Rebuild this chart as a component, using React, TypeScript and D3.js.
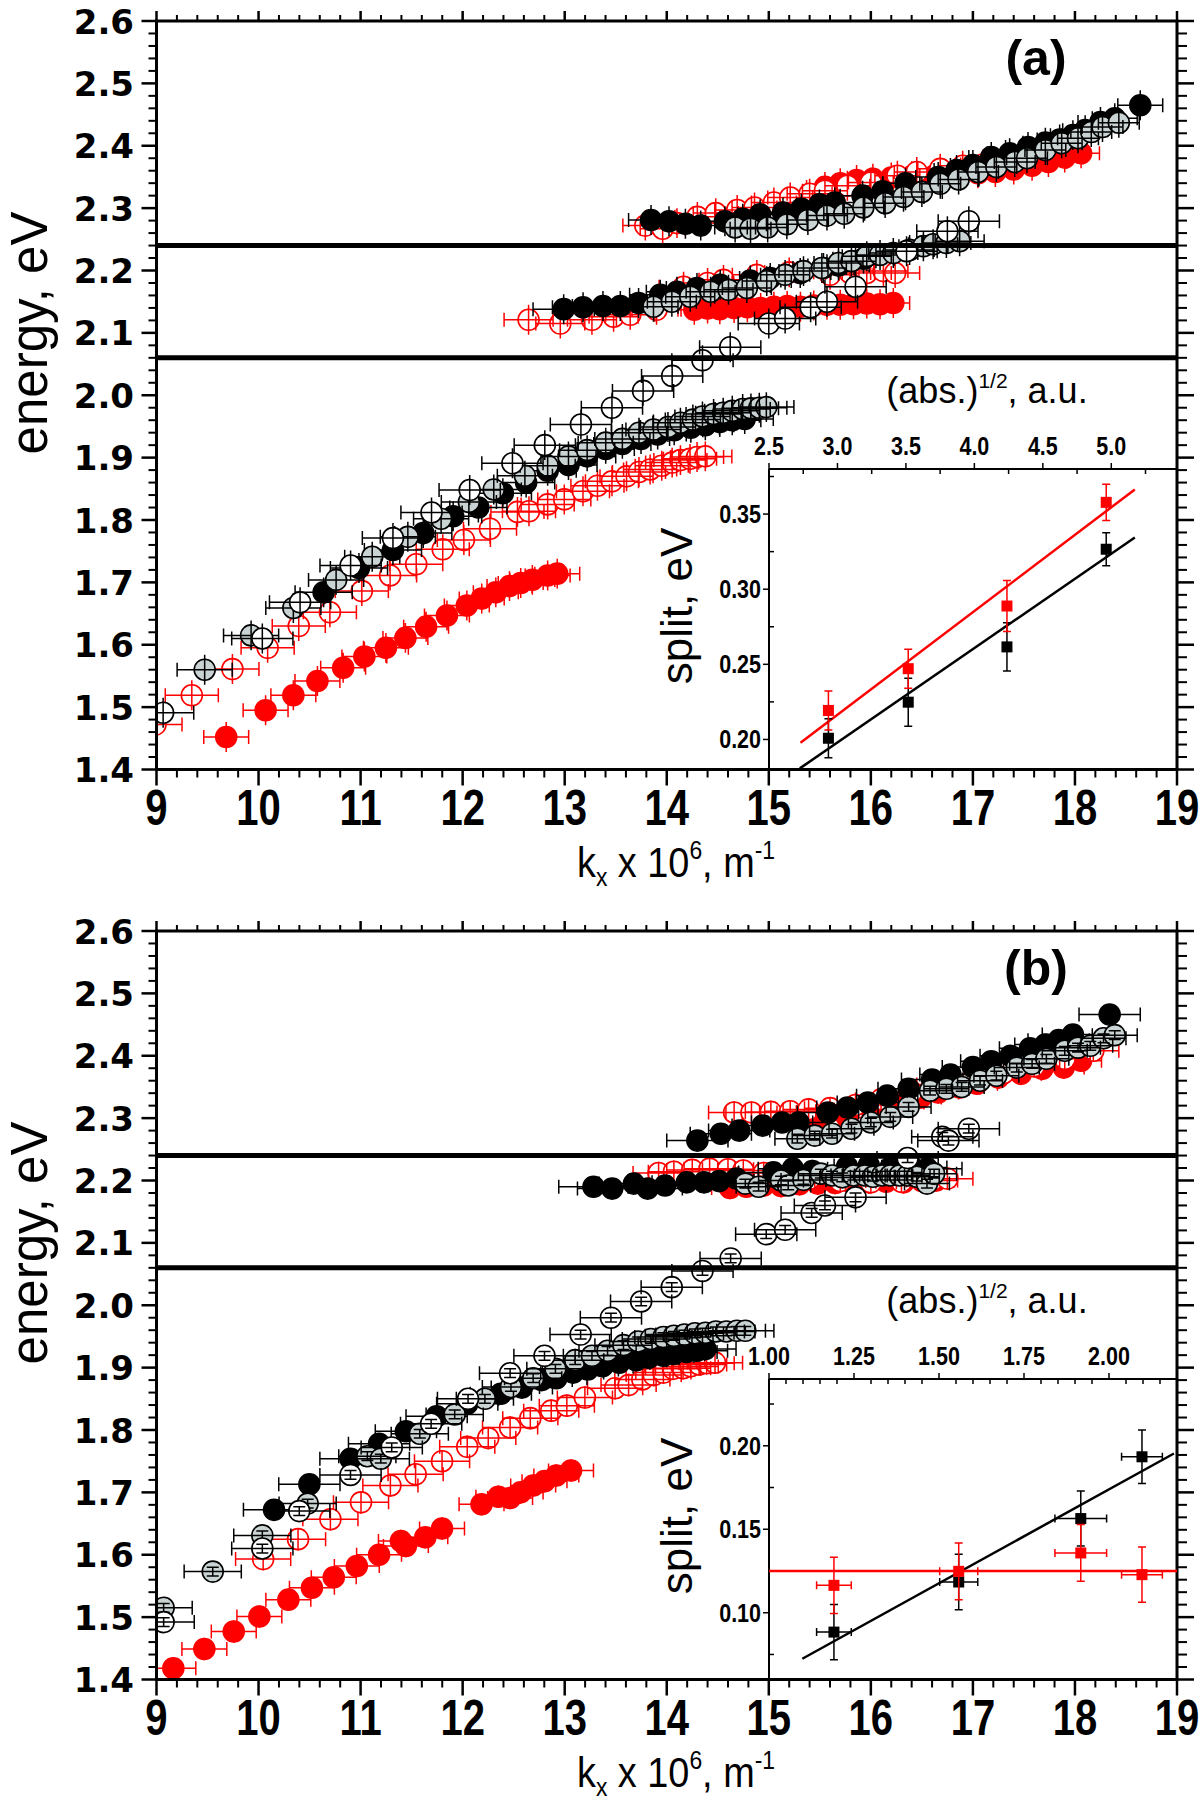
import React from 'react';
import * as d3 from 'd3';

type P = [number, number];

// ---------------- Panel (a) data: [k_x (10^6 m^-1), energy (eV)] ----------------
const A_RED_FILLED_LOW: P[] = [[9.683,1.452],[10.069,1.495],[10.341,1.519],[10.577,1.542],[10.829,1.563],[11.037,1.581],[11.248,1.595],[11.439,1.611],[11.642,1.629],[11.846,1.647],[12.041,1.663],[12.187,1.674],[12.325,1.684],[12.459,1.694],[12.569,1.699],[12.683,1.704],[12.833,1.711],[12.927,1.714]];
const A_RED_FILLED_MID: P[] = [[14.27,2.137],[14.40,2.139],[14.52,2.138],[14.66,2.140],[14.79,2.141],[14.92,2.140],[15.05,2.142],[15.18,2.143],[15.31,2.142],[15.44,2.144],[15.57,2.145],[15.70,2.145],[15.83,2.146],[15.96,2.147],[16.09,2.146],[16.22,2.148]];
const A_RED_FILLED_UP: P[] = [[15.55,2.334],[15.70,2.340],[15.86,2.345],[16.02,2.347],[16.20,2.349],[16.40,2.351],[16.62,2.352],[16.85,2.354],[17.05,2.356],[17.22,2.358],[17.40,2.362],[17.58,2.368],[17.74,2.374],[17.90,2.381],[18.06,2.388]];
const A_RED_OPEN_LOW: P[] = [[8.99,1.472],[9.346,1.519],[9.744,1.561],[10.089,1.595],[10.394,1.630],[10.699,1.652],[11.012,1.686],[11.289,1.711],[11.545,1.729],[11.805,1.753],[12.012,1.768],[12.268,1.786],[12.537,1.813],[12.650,1.814],[12.833,1.825],[12.996,1.833],[13.179,1.846],[13.321,1.855],[13.463,1.862],[13.606,1.870],[13.728,1.877],[13.837,1.881],[13.951,1.887],[14.053,1.892],[14.134,1.896],[14.228,1.898],[14.297,1.901],[14.378,1.902]];
const A_RED_OPEN_MID: P[] = [[12.646,2.121],[12.957,2.115],[13.267,2.121],[13.479,2.126],[13.642,2.129],[13.90,2.137],[14.165,2.174],[14.40,2.180],[14.556,2.185],[14.883,2.193],[15.20,2.197],[15.60,2.193],[15.797,2.196],[15.96,2.196],[16.123,2.199],[16.238,2.196]];
const A_RED_OPEN_UP: P[] = [[13.79,2.272],[13.96,2.267],[14.10,2.276],[14.30,2.286],[14.48,2.292],[14.69,2.297],[14.86,2.301],[15.05,2.309],[15.21,2.317],[15.40,2.323],[15.55,2.328],[15.77,2.336],[16.00,2.341],[16.26,2.352],[16.45,2.358],[16.68,2.363],[16.90,2.368],[17.10,2.370]];
const A_BLACK_FILLED_LOW: P[] = [[10.638,1.684],[10.984,1.723],[11.317,1.752],[11.614,1.779],[11.907,1.806],[12.154,1.820],[12.394,1.843],[12.622,1.860],[12.833,1.879],[13.037,1.888],[13.220,1.902],[13.402,1.914],[13.565,1.922],[13.748,1.930],[13.911,1.937],[14.073,1.944],[14.236,1.948],[14.378,1.952],[14.520,1.957],[14.642,1.960],[14.764,1.962]];
const A_BLACK_FILLED_MID: P[] = [[12.99,2.138],[13.18,2.141],[13.375,2.143],[13.545,2.143],[13.724,2.148],[13.936,2.161],[14.10,2.166],[14.296,2.172],[14.524,2.177],[14.818,2.184],[15.014,2.188],[15.308,2.196],[15.536,2.204],[15.683,2.208],[15.928,2.219]];
const A_BLACK_FILLED_UP: P[] = [[13.846,2.281],[14.022,2.279],[14.183,2.275],[14.333,2.272],[14.570,2.279],[14.745,2.283],[14.915,2.290],[15.139,2.293],[15.319,2.299],[15.496,2.306],[15.646,2.309],[15.919,2.320],[16.114,2.327],[16.34,2.340],[16.66,2.350],[16.84,2.361],[17.00,2.369],[17.18,2.382],[17.36,2.388],[17.54,2.398],[17.71,2.405],[17.85,2.410],[17.98,2.417],[18.10,2.425],[18.25,2.438],[18.39,2.444],[18.64,2.465]];
const A_GRAY_LOW: P[] = [[9.472,1.560],[9.927,1.615],[10.341,1.659],[10.760,1.704],[11.114,1.741],[11.463,1.773],[11.789,1.802],[12.061,1.829],[12.305,1.849],[12.610,1.871],[12.833,1.887],[13.037,1.902],[13.220,1.912],[13.402,1.924],[13.565,1.930],[13.728,1.940],[13.870,1.945],[14.012,1.949],[14.134,1.956],[14.256,1.961],[14.350,1.966],[14.459,1.970],[14.553,1.972],[14.642,1.975],[14.744,1.978],[14.825,1.979],[14.907,1.980],[14.976,1.981]];
const A_GRAY_MID: P[] = [[13.87,2.142],[14.05,2.150],[14.23,2.158],[14.43,2.166],[14.605,2.169],[14.785,2.172],[14.98,2.183],[15.16,2.193],[15.34,2.199],[15.52,2.204],[15.683,2.212],[15.81,2.215],[15.96,2.223],[16.09,2.225],[16.22,2.228],[16.38,2.233],[16.515,2.239],[16.61,2.242],[16.74,2.244],[16.87,2.247]];
const A_GRAY_UP: P[] = [[14.67,2.269],[14.821,2.267],[14.989,2.269],[15.177,2.274],[15.383,2.281],[15.570,2.288],[15.739,2.291],[15.926,2.301],[16.14,2.308],[16.32,2.318],[16.50,2.326],[16.68,2.339],[16.86,2.346],[17.05,2.358],[17.23,2.366],[17.41,2.374],[17.53,2.380],[17.71,2.393],[17.87,2.404],[18.03,2.412],[18.16,2.422],[18.27,2.430],[18.43,2.437]];
const A_BLACK_OPEN: P[] = [[9.065,1.491],[10.037,1.610],[10.407,1.668],[10.902,1.727],[11.317,1.771],[11.695,1.812],[12.069,1.848],[12.488,1.891],[12.805,1.920],[13.159,1.953],[13.463,1.980],[13.768,2.007],[14.053,2.031],[14.350,2.056],[14.622,2.077],[15.0,2.115],[15.16,2.123],[15.41,2.141],[15.57,2.150],[15.85,2.174],[16.35,2.231],[16.75,2.263],[16.96,2.279]];

// ---------------- Panel (b) data ----------------
const B_RED_FILLED_LOW: P[] = [[9.165,1.418],[9.469,1.449],[9.757,1.477],[10.008,1.501],[10.292,1.528],[10.523,1.547],[10.737,1.564],[10.963,1.582],[11.181,1.600],[11.395,1.622],[11.444,1.614],[11.634,1.628],[11.798,1.642],[12.185,1.681],[12.35,1.693],[12.465,1.691],[12.568,1.700],[12.691,1.711],[12.802,1.718],[12.918,1.727],[13.062,1.735]];
const B_RED_FILLED_MID: P[] = [[14.62,2.188],[14.78,2.190],[14.95,2.192],[15.12,2.191],[15.30,2.194],[15.48,2.195],[15.65,2.196],[15.82,2.195],[15.98,2.197],[16.15,2.198],[16.32,2.197],[16.50,2.199],[16.64,2.200]];
const B_RED_FILLED_UP: P[] = [[15.35,2.293],[15.51,2.296],[15.77,2.301],[16.02,2.307],[16.32,2.325],[16.49,2.333],[16.66,2.341],[16.87,2.349],[17.04,2.355],[17.25,2.365],[17.47,2.371],[17.68,2.379],[17.89,2.381],[18.06,2.392]];
const B_RED_OPEN_LOW: P[] = [[10.045,1.593],[10.387,1.625],[10.704,1.657],[11.004,1.684],[11.292,1.711],[11.539,1.729],[11.798,1.750],[12.045,1.773],[12.251,1.787],[12.465,1.804],[12.663,1.819],[12.868,1.831],[13.021,1.839],[13.198,1.852],[13.494,1.867],[13.626,1.872],[13.761,1.881],[13.872,1.888],[13.967,1.892],[14.062,1.898],[14.160,1.899],[14.235,1.902],[14.317,1.905],[14.391,1.907],[14.473,1.908]];
const B_RED_OPEN_MID: P[] = [[13.92,2.212],[14.07,2.214],[14.25,2.217],[14.42,2.219],[14.60,2.218],[14.75,2.216],[14.95,2.212],[15.15,2.207],[15.40,2.203],[15.70,2.199],[16.00,2.197],[16.30,2.198],[16.60,2.200],[16.75,2.203]];
const B_RED_OPEN_UP: P[] = [[14.66,2.309],[14.83,2.309],[15.02,2.310],[15.21,2.311],[15.39,2.314],[15.60,2.316],[15.85,2.321],[16.10,2.330],[16.40,2.342],[16.70,2.354],[17.00,2.362],[17.30,2.372],[17.60,2.383],[17.90,2.395],[18.18,2.408]];
const B_BLACK_FILLED_LOW: P[] = [[10.152,1.672],[10.498,1.713],[10.901,1.754],[11.181,1.778],[11.444,1.798],[11.745,1.822],[12.045,1.842],[12.374,1.858],[12.580,1.868],[12.774,1.880],[12.918,1.883],[13.082,1.892],[13.226,1.897],[13.370,1.902],[13.535,1.908],[13.700,1.912],[13.823,1.916],[13.967,1.919],[14.070,1.922],[14.193,1.925],[14.296,1.927],[14.379,1.930]];
const B_BLACK_FILLED_MID: P[] = [[13.282,2.190],[13.465,2.187],[13.678,2.195],[13.813,2.187],[13.983,2.192],[14.196,2.197],[14.366,2.197],[14.514,2.199],[14.684,2.203],[15.045,2.213],[15.236,2.219],[15.427,2.215],[15.767,2.222],[15.980,2.224],[16.192,2.221],[16.405,2.221],[16.553,2.219]];
const B_BLACK_FILLED_UP: P[] = [[14.30,2.264],[14.53,2.275],[14.71,2.280],[14.94,2.288],[15.13,2.293],[15.29,2.293],[15.58,2.309],[15.77,2.317],[15.97,2.325],[16.16,2.336],[16.37,2.347],[16.60,2.362],[16.78,2.370],[17.00,2.382],[17.18,2.391],[17.37,2.400],[17.56,2.412],[17.71,2.418],[17.84,2.425],[17.98,2.434],[18.34,2.466]];
const B_GRAY_LOW: P[] = [[9.070,1.515],[9.551,1.573],[10.037,1.631],[10.481,1.682],[11.066,1.758],[11.198,1.754],[11.580,1.794],[11.922,1.825],[12.218,1.850],[12.473,1.869],[12.691,1.883],[12.909,1.898],[13.103,1.912],[13.267,1.919],[13.420,1.927],[13.576,1.936],[13.720,1.942],[13.844,1.946],[13.967,1.949],[14.070,1.951],[14.173,1.953],[14.276,1.955],[14.379,1.956],[14.481,1.958],[14.584,1.958],[14.687,1.959],[14.770,1.959]];
const B_GRAY_MID: P[] = [[14.77,2.195],[14.90,2.190],[15.12,2.200],[15.19,2.192],[15.34,2.201],[15.51,2.211],[15.62,2.208],[15.72,2.205],[15.83,2.208],[15.94,2.208],[16.02,2.206],[16.11,2.208],[16.19,2.208],[16.28,2.208],[16.36,2.208],[16.45,2.206],[16.55,2.195],[16.62,2.211]];
const B_GRAY_UP: P[] = [[15.28,2.267],[15.45,2.272],[15.62,2.275],[15.81,2.283],[16.00,2.293],[16.19,2.302],[16.37,2.318],[16.58,2.344],[16.74,2.347],[16.89,2.350],[17.07,2.360],[17.23,2.368],[17.43,2.381],[17.58,2.387],[17.72,2.395],[17.90,2.408],[18.03,2.413],[18.15,2.416],[18.28,2.428],[18.39,2.433]];
const B_BLACK_OPEN: P[] = [[9.070,1.492],[10.037,1.610],[10.399,1.670],[10.901,1.728],[11.305,1.772],[11.691,1.810],[12.053,1.850],[12.465,1.891],[12.802,1.919],[13.156,1.953],[13.453,1.980],[13.749,2.006],[14.049,2.029],[14.350,2.055],[14.626,2.075],[14.975,2.114],[15.16,2.121],[15.42,2.148],[15.55,2.160],[15.85,2.173],[16.36,2.236],[16.70,2.270],[16.76,2.264],[16.96,2.283]];

// ---------------- Inset data ----------------
const INSET_A_X = [2.934, 3.517, 4.238, 4.963];
const INSET_A_RED = [0.2193, 0.2471, 0.2888, 0.3578];
const INSET_A_RED_ERR = [0.013, 0.013, 0.017, 0.012];
const INSET_A_BLACK = [0.2008, 0.2248, 0.2616, 0.3266];
const INSET_A_BLACK_ERR = [0.013, 0.016, 0.016, 0.011];
const INSET_A_FIT_RED = { slope: 0.069, intercept: 0.0095, from: 2.73, to: 5.172 };
const INSET_A_FIT_BLACK = { slope: 0.0628, intercept: 0.0096, from: 2.725, to: 5.172 };

const INSET_B_X = [1.191, 1.558, 1.917, 2.097];
const INSET_B_XERR = [0.051, 0.056, 0.076, 0.06];
const INSET_B_RED = [0.1164, 0.1248, 0.1358, 0.1228];
const INSET_B_RED_ERR = [0.0168, 0.017, 0.017, 0.0165];
const INSET_B_BLACK = [0.0884, 0.1184, 0.1564, 0.1934];
const INSET_B_BLACK_ERR = [0.0166, 0.0166, 0.0165, 0.016];
const INSET_B_FIT_RED = { slope: 0, intercept: 0.125, from: 1.0, to: 2.2 };
const INSET_B_FIT_BLACK = { slope: 0.1125, intercept: -0.0511, from: 1.098, to: 2.191 };

// ---------------- Tick values ----------------
const X_MAJOR = [9, 10, 11, 12, 13, 14, 15, 16, 17, 18, 19];
const Y_MAJOR = [1.4, 1.5, 1.6, 1.7, 1.8, 1.9, 2.0, 2.1, 2.2, 2.3, 2.4, 2.5, 2.6];
const GAP_LINES = [2.24, 2.06];

// ---------------- Layout / style ----------------
const W = 1200, H = 1814;
const LEFT = 156.5, RIGHT = 1177;
const PANEL_H = 748.5;
const RED = '#ff0000';
const GRAY = '#c9d3d3';
const FONT = '"Liberation Sans", Arial, sans-serif';
const R = 10.5;

type Kind = 'rf' | 'ro' | 'bf' | 'gr' | 'bo';
interface Series { data: P[]; kind: Kind; xerr: number; yerr: number; ycap: boolean; }

const KIND_STYLE: Record<Kind, { fill: string; stroke: string; err: string }> = {
  rf: { fill: RED, stroke: RED, err: RED },
  ro: { fill: '#ffffff', stroke: RED, err: RED },
  bf: { fill: '#000000', stroke: '#000000', err: '#000000' },
  gr: { fill: GRAY, stroke: '#000000', err: '#000000' },
  bo: { fill: '#ffffff', stroke: '#000000', err: '#000000' },
};

const SERIES_A: Series[] = [
  { data: A_RED_FILLED_LOW, kind: 'rf', xerr: 0.22, yerr: 0.024, ycap: false },
  { data: A_RED_FILLED_MID, kind: 'rf', xerr: 0.16, yerr: 0.024, ycap: false },
  { data: A_RED_FILLED_UP, kind: 'rf', xerr: 0.18, yerr: 0.024, ycap: false },
  { data: A_RED_OPEN_LOW, kind: 'ro', xerr: 0.26, yerr: 0.024, ycap: false },
  { data: A_RED_OPEN_MID, kind: 'ro', xerr: 0.24, yerr: 0.024, ycap: false },
  { data: A_RED_OPEN_UP, kind: 'ro', xerr: 0.22, yerr: 0.024, ycap: false },
  { data: A_BLACK_FILLED_LOW, kind: 'bf', xerr: 0.28, yerr: 0.024, ycap: false },
  { data: A_BLACK_FILLED_MID, kind: 'bf', xerr: 0.3, yerr: 0.024, ycap: false },
  { data: A_BLACK_FILLED_UP, kind: 'bf', xerr: 0.22, yerr: 0.024, ycap: false },
  { data: A_GRAY_LOW, kind: 'gr', xerr: 0.27, yerr: 0.024, ycap: false },
  { data: A_GRAY_MID, kind: 'gr', xerr: 0.24, yerr: 0.024, ycap: false },
  { data: A_GRAY_UP, kind: 'gr', xerr: 0.2, yerr: 0.024, ycap: false },
  { data: A_BLACK_OPEN, kind: 'bo', xerr: 0.3, yerr: 0.024, ycap: false },
];

const SERIES_B: Series[] = [
  { data: B_RED_FILLED_LOW, kind: 'rf', xerr: 0.22, yerr: 0.018, ycap: false },
  { data: B_RED_FILLED_MID, kind: 'rf', xerr: 0.18, yerr: 0.018, ycap: false },
  { data: B_RED_FILLED_UP, kind: 'rf', xerr: 0.2, yerr: 0.018, ycap: false },
  { data: B_RED_OPEN_LOW, kind: 'ro', xerr: 0.27, yerr: 0.018, ycap: false },
  { data: B_RED_OPEN_MID, kind: 'ro', xerr: 0.25, yerr: 0.018, ycap: false },
  { data: B_RED_OPEN_UP, kind: 'ro', xerr: 0.25, yerr: 0.018, ycap: false },
  { data: B_BLACK_FILLED_LOW, kind: 'bf', xerr: 0.3, yerr: 0.007, ycap: true },
  { data: B_BLACK_FILLED_MID, kind: 'bf', xerr: 0.34, yerr: 0.007, ycap: true },
  { data: B_BLACK_FILLED_UP, kind: 'bf', xerr: 0.3, yerr: 0.007, ycap: true },
  { data: B_GRAY_LOW, kind: 'gr', xerr: 0.28, yerr: 0.007, ycap: true },
  { data: B_GRAY_MID, kind: 'gr', xerr: 0.22, yerr: 0.007, ycap: true },
  { data: B_GRAY_UP, kind: 'gr', xerr: 0.22, yerr: 0.007, ycap: true },
  { data: B_BLACK_OPEN, kind: 'bo', xerr: 0.3, yerr: 0.007, ycap: true },
];

const xScale = d3.scaleLinear().domain([9, 19]).range([LEFT, RIGHT]);

function errPath(s: Series, y: d3.ScaleLinear<number, number>): string {
  const p = d3.path();
  s.data.forEach(([k, e]) => {
    const cx = xScale(k), cy = y(e);
    const x0 = xScale(k - s.xerr), x1 = xScale(k + s.xerr);
    p.moveTo(x0, cy); p.lineTo(x1, cy);
    p.moveTo(x0, cy - 7); p.lineTo(x0, cy + 7);
    p.moveTo(x1, cy - 7); p.lineTo(x1, cy + 7);
    const y0 = y(e + s.yerr), y1 = y(e - s.yerr);
    p.moveTo(cx, y0); p.lineTo(cx, y1);
    if (s.ycap) {
      p.moveTo(cx - 6, y0); p.lineTo(cx + 6, y0);
      p.moveTo(cx - 6, y1); p.lineTo(cx + 6, y1);
    }
  });
  return p.toString();
}

interface Fit { slope: number; intercept: number; from: number; to: number }
interface InsetCfg {
  xDomain: [number, number]; yDomain: [number, number];
  xMajor: number[]; xMinor: number[]; yMajor: number[]; yMinor: number[];
  xFmt: (v: number) => string; yFmt: (v: number) => string;
  x: number[]; xerr: number[] | null;
  red: number[]; redErr: number[]; black: number[]; blackErr: number[];
  fitRed: Fit; fitBlack: Fit;
}

const INSET_A: InsetCfg = {
  xDomain: [2.5, 5.48], yDomain: [0.18, 0.38],
  xMajor: [2.5, 3.0, 3.5, 4.0, 4.5, 5.0], xMinor: [2.75, 3.25, 3.75, 4.25, 4.75, 5.25],
  yMajor: [0.20, 0.25, 0.30, 0.35], yMinor: [0.225, 0.275, 0.325, 0.375],
  xFmt: d3.format('.1f'), yFmt: d3.format('.2f'),
  x: INSET_A_X, xerr: null,
  red: INSET_A_RED, redErr: INSET_A_RED_ERR, black: INSET_A_BLACK, blackErr: INSET_A_BLACK_ERR,
  fitRed: INSET_A_FIT_RED, fitBlack: INSET_A_FIT_BLACK,
};
const INSET_B: InsetCfg = {
  xDomain: [1.0, 2.2], yDomain: [0.06, 0.24],
  xMajor: [1.0, 1.25, 1.5, 1.75, 2.0],
  xMinor: [1.05, 1.1, 1.15, 1.2, 1.3, 1.35, 1.4, 1.45, 1.55, 1.6, 1.65, 1.7, 1.8, 1.85, 1.9, 1.95, 2.05, 2.1, 2.15],
  yMajor: [0.10, 0.15, 0.20], yMinor: [0.075, 0.125, 0.175, 0.225],
  xFmt: d3.format('.2f'), yFmt: d3.format('.2f'),
  x: INSET_B_X, xerr: INSET_B_XERR,
  red: INSET_B_RED, redErr: INSET_B_RED_ERR, black: INSET_B_BLACK, blackErr: INSET_B_BLACK_ERR,
  fitRed: INSET_B_FIT_RED, fitBlack: INSET_B_FIT_BLACK,
};

function Inset({ top, cfg }: { top: number; cfg: InsetCfg }) {
  const left = 769, iTop = top + 448, bottom = top + PANEL_H;
  const xs = d3.scaleLinear().domain(cfg.xDomain).range([left, RIGHT]);
  const ys = d3.scaleLinear().domain(cfg.yDomain).range([bottom, iTop]);
  const fitLine = (f: Fit) =>
    d3.line<number>().x(v => xs(v)).y(v => ys(f.intercept + f.slope * v))([f.from, f.to]) || '';
  const bars = (vals: number[], errs: number[]) => {
    const p = d3.path();
    vals.forEach((v, i) => {
      const cx = xs(cfg.x[i]);
      const y0 = ys(v + errs[i]), y1 = ys(v - errs[i]);
      p.moveTo(cx, y0); p.lineTo(cx, y1);
      p.moveTo(cx - 4, y0); p.lineTo(cx + 4, y0);
      p.moveTo(cx - 4, y1); p.lineTo(cx + 4, y1);
      if (cfg.xerr) {
        const cy = ys(v);
        const x0 = xs(cfg.x[i] - cfg.xerr[i]), x1 = xs(cfg.x[i] + cfg.xerr[i]);
        p.moveTo(x0, cy); p.lineTo(x1, cy);
        p.moveTo(x0, cy - 4); p.lineTo(x0, cy + 4);
        p.moveTo(x1, cy - 4); p.lineTo(x1, cy + 4);
      }
    });
    return p.toString();
  };
  const S = 11;
  return (
    <g>
      <line x1={left} y1={iTop} x2={RIGHT} y2={iTop} stroke="#000" strokeWidth={2} />
      <line x1={left} y1={iTop} x2={left} y2={bottom} stroke="#000" strokeWidth={2} />
      {cfg.xMajor.map(v => (
        <g key={'xm' + v}>
          <line x1={xs(v)} x2={xs(v)} y1={iTop} y2={iTop - 6} stroke="#000" strokeWidth={1.5} />
          <text transform={`translate(${xs(v)},${iTop - 14}) scale(0.86,1)`} textAnchor="middle"
            fontFamily={FONT} fontWeight="bold" fontSize={25}>{cfg.xFmt(v)}</text>
        </g>
      ))}
      {cfg.xMinor.map(v => (
        <line key={'xn' + v} x1={xs(v)} x2={xs(v)} y1={iTop} y2={iTop + 5} stroke="#000" strokeWidth={1.5} />
      ))}
      {cfg.yMajor.map(v => (
        <g key={'ym' + v}>
          <line x1={left} x2={left - 6} y1={ys(v)} y2={ys(v)} stroke="#000" strokeWidth={1.5} />
          <text transform={`translate(${left - 8},${ys(v) + 9}) scale(0.86,1)`} textAnchor="end"
            fontFamily={FONT} fontWeight="bold" fontSize={25}>{cfg.yFmt(v)}</text>
        </g>
      ))}
      {cfg.yMinor.map(v => (
        <line key={'yn' + v} x1={left} x2={left + 5} y1={ys(v)} y2={ys(v)} stroke="#000" strokeWidth={1.5} />
      ))}
      <text x={987} y={iTop - 66} textAnchor="middle" fontFamily={FONT} fontSize={36}>
        (abs.)<tspan fontSize={21} dy={-15}>1/2</tspan><tspan dy={15}>, a.u.</tspan>
      </text>
      <text transform={`translate(692,${iTop + 137}) rotate(-90)`} textAnchor="middle"
        fontFamily={FONT} fontSize={44}>split, eV</text>
      <path d={fitLine(cfg.fitBlack)} stroke="#000" strokeWidth={2.5} fill="none" />
      <path d={fitLine(cfg.fitRed)} stroke={RED} strokeWidth={2.5} fill="none" />
      <path d={bars(cfg.black, cfg.blackErr)} stroke="#000" strokeWidth={1.5} fill="none" />
      {cfg.black.map((v, i) => (
        <rect key={'b' + i} x={xs(cfg.x[i]) - S / 2} y={ys(v) - S / 2} width={S} height={S} fill="#000" />
      ))}
      <path d={bars(cfg.red, cfg.redErr)} stroke={RED} strokeWidth={1.5} fill="none" />
      {cfg.red.map((v, i) => (
        <rect key={'r' + i} x={xs(cfg.x[i]) - S / 2} y={ys(v) - S / 2} width={S} height={S} fill={RED} />
      ))}
    </g>
  );
}

function Panel({ top, series, label, inset, id }: { top: number; series: Series[]; label: string; inset: InsetCfg; id: string }) {
  const bottom = top + PANEL_H;
  const y = d3.scaleLinear().domain([1.4, 2.6]).range([bottom, top]);
  const xMinor = d3.range(0, 51).filter(i => i % 5 !== 0).map(i => 9 + i * 0.2);
  const yMinor = d3.range(0, 61).filter(i => i % 5 !== 0).map(i => 1.4 + i * 0.02);
  const fmtY = d3.format('.1f');
  return (
    <g>
      <defs>
        <clipPath id={id}>
          <rect x={LEFT} y={top} width={RIGHT - LEFT} height={PANEL_H} />
        </clipPath>
      </defs>
      <g clipPath={`url(#${id})`}>
        {series.map((s, si) => {
          const st = KIND_STYLE[s.kind];
          return (
            <g key={si}>
              {s.data.map(([k, e], i) => (
                <circle key={i} cx={xScale(k)} cy={y(e)} r={R} fill={st.fill} stroke={st.stroke} strokeWidth={1.6} />
              ))}
              <path d={errPath(s, y)} stroke={st.err} strokeWidth={1.5} fill="none" />
            </g>
          );
        })}
      </g>
      {GAP_LINES.map(v => (
        <line key={v} x1={LEFT} x2={RIGHT} y1={y(v)} y2={y(v)} stroke="#000" strokeWidth={5} />
      ))}
      <rect x={LEFT} y={top} width={RIGHT - LEFT} height={PANEL_H} fill="none" stroke="#000" strokeWidth={3} />
      {X_MAJOR.map(v => (
        <g key={'x' + v}>
          <line x1={xScale(v)} x2={xScale(v)} y1={bottom} y2={bottom + 16} stroke="#000" strokeWidth={2.5} />
          <line x1={xScale(v)} x2={xScale(v)} y1={top} y2={top - 10} stroke="#000" strokeWidth={2.5} />
          <text transform={`translate(${xScale(v)},${bottom + 55}) scale(0.8,1)`} textAnchor="middle"
            fontFamily={FONT} fontWeight="bold" fontSize={50}>{v}</text>
        </g>
      ))}
      {xMinor.map(v => (
        <g key={'xm' + v}>
          <line x1={xScale(v)} x2={xScale(v)} y1={bottom} y2={bottom + 8} stroke="#000" strokeWidth={2} />
          <line x1={xScale(v)} x2={xScale(v)} y1={top} y2={top - 6} stroke="#000" strokeWidth={2} />
        </g>
      ))}
      {Y_MAJOR.map(v => (
        <g key={'y' + v}>
          <line x1={LEFT} x2={LEFT - 15} y1={y(v)} y2={y(v)} stroke="#000" strokeWidth={2.5} />
          <line x1={RIGHT} x2={RIGHT + 17} y1={y(v)} y2={y(v)} stroke="#000" strokeWidth={2.5} />
          <text x={134} y={y(v) + 12.5} textAnchor="end" fontFamily='"DejaVu Sans", sans-serif'
            fontWeight="bold" fontSize={34}>{fmtY(v)}</text>
        </g>
      ))}
      {yMinor.map(v => (
        <g key={'ym' + v}>
          <line x1={LEFT} x2={LEFT - 8} y1={y(v)} y2={y(v)} stroke="#000" strokeWidth={2} />
          <line x1={RIGHT} x2={RIGHT + 10} y1={y(v)} y2={y(v)} stroke="#000" strokeWidth={2} />
        </g>
      ))}
      <text transform={`translate(47,${top + 312}) rotate(-90)`} textAnchor="middle" fontFamily={FONT} fontSize={51}>energy, eV</text>
      <text transform={`translate(676,${bottom + 107}) scale(0.88,1)`} textAnchor="middle" fontFamily={FONT} fontSize={43}>
        k<tspan fontSize={26} dy={9}>x</tspan><tspan dy={-9}> x 10</tspan><tspan fontSize={26} dy={-18}>6</tspan><tspan dy={18}>, m</tspan><tspan fontSize={26} dy={-18}>-1</tspan>
      </text>
      <text x={1036} y={top + 54} textAnchor="middle" fontFamily={FONT} fontWeight="bold" fontSize={50}>{label}</text>
      <Inset top={top} cfg={inset} />
    </g>
  );
}

export default function App() {
  return (
    <svg width={W} height={H} viewBox={`0 0 ${W} ${H}`} style={{ display: 'block', position: 'absolute', left: 0, top: 0, background: '#fff' }}>
      <rect x={0} y={0} width={W} height={H} fill="#fff" />
      <Panel top={21} series={SERIES_A} label="(a)" inset={INSET_A} id="clipA" />
      <Panel top={931} series={SERIES_B} label="(b)" inset={INSET_B} id="clipB" />
    </svg>
  );
}
